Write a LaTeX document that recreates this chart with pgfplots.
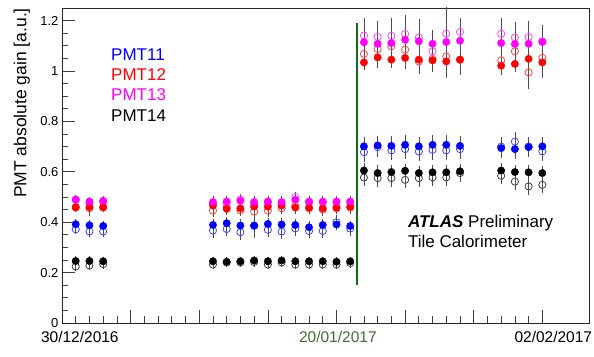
\documentclass[border=0pt]{standalone}
\usepackage{pgfplots}
\pgfplotsset{compat=1.18}
\usepackage{pgfplotstable}
\usepackage{fontspec}
\setmainfont{Liberation Sans}
\definecolor{lineGreen}{RGB}{20,105,20}
\definecolor{labGreen}{RGB}{60,110,50}
\definecolor{pmtBlue}{RGB}{0,0,255}
\definecolor{pmtRed}{RGB}{255,0,0}
\definecolor{pmtMag}{RGB}{255,0,255}

\pgfplotstableread{
x y e
1 0.392 0.012
2 0.388 0.012
3 0.385 0.012
11 0.389 0.015
12 0.396 0.015
13 0.387 0.015
14 0.387 0.040
15 0.393 0.015
16 0.391 0.015
17 0.389 0.015
18 0.380 0.015
19 0.389 0.015
20 0.391 0.015
21 0.385 0.012
22 0.701 0.030
23 0.705 0.030
24 0.703 0.030
25 0.707 0.030
26 0.701 0.030
27 0.707 0.030
28 0.707 0.030
29 0.703 0.030
32 0.694 0.030
33 0.690 0.030
34 0.698 0.030
35 0.701 0.030
}\pmtAf
\pgfplotstableread{
x y e
1 0.372 0.012
2 0.363 0.012
3 0.363 0.012
11 0.367 0.020
12 0.373 0.020
13 0.360 0.020
14 0.385 0.020
15 0.370 0.020
16 0.363 0.020
17 0.375 0.020
18 0.365 0.020
19 0.365 0.020
20 0.400 0.020
21 0.375 0.020
22 0.678 0.030
23 0.698 0.030
24 0.685 0.030
25 0.690 0.030
26 0.681 0.030
27 0.687 0.030
28 0.685 0.030
29 0.690 0.030
32 0.700 0.030
33 0.720 0.030
34 0.700 0.030
35 0.681 0.030
}\pmtAo
\pgfplotstableread{
x y e
1 0.460 0.012
2 0.460 0.025
3 0.460 0.012
11 0.466 0.015
12 0.453 0.015
13 0.455 0.020
14 0.462 0.015
15 0.462 0.015
16 0.466 0.015
17 0.458 0.015
18 0.458 0.015
19 0.455 0.015
20 0.458 0.015
21 0.462 0.015
22 1.034 0.020
23 1.054 0.033
24 1.045 0.015
25 1.052 0.034
26 1.045 0.050
27 1.042 0.037
28 1.038 0.040
29 1.045 0.053
32 1.021 0.030
33 1.028 0.023
34 1.048 0.030
35 1.034 0.055
}\pmtBf
\pgfplotstableread{
x y e
1 0.458 0.010
2 0.455 0.010
3 0.458 0.010
11 0.446 0.015
12 0.460 0.015
13 0.447 0.015
14 0.442 0.015
15 0.446 0.015
16 0.455 0.015
17 0.465 0.015
18 0.455 0.015
19 0.450 0.015
20 0.455 0.015
21 0.458 0.015
22 1.068 0.030
23 1.087 0.030
24 1.098 0.030
25 1.085 0.030
26 1.038 0.030
27 1.048 0.030
28 1.058 0.030
29 1.045 0.030
32 1.042 0.030
33 1.078 0.030
34 0.994 0.058
35 1.052 0.030
}\pmtBo
\pgfplotstableread{
x y e
1 0.490 0.010
2 0.482 0.010
3 0.485 0.010
11 0.480 0.015
12 0.482 0.015
13 0.485 0.020
14 0.480 0.015
15 0.482 0.015
16 0.480 0.015
17 0.489 0.020
18 0.482 0.015
19 0.482 0.015
20 0.482 0.015
21 0.482 0.015
22 1.114 0.086
23 1.108 0.080
24 1.111 0.090
25 1.124 0.090
26 1.118 0.080
27 1.108 0.045
28 1.115 0.135
29 1.120 0.080
32 1.111 0.090
33 1.107 0.080
34 1.108 0.082
35 1.115 0.060
}\pmtCf
\pgfplotstableread{
x y e
1 0.488 0.010
2 0.478 0.010
3 0.480 0.010
11 0.475 0.010
12 0.478 0.010
13 0.490 0.010
14 0.472 0.010
15 0.478 0.010
16 0.475 0.010
17 0.500 0.010
18 0.478 0.010
19 0.478 0.010
20 0.478 0.010
21 0.478 0.010
22 1.141 0.030
23 1.135 0.030
24 1.140 0.030
25 1.147 0.030
26 1.133 0.030
27 1.078 0.030
28 1.148 0.030
29 1.155 0.030
32 1.148 0.030
33 1.133 0.030
34 1.135 0.030
35 1.118 0.030
}\pmtCo
\pgfplotstableread{
x y e
1 0.246 0.010
2 0.246 0.010
3 0.245 0.010
11 0.245 0.010
12 0.243 0.010
13 0.245 0.010
14 0.248 0.010
15 0.245 0.010
16 0.248 0.010
17 0.245 0.010
18 0.245 0.010
19 0.245 0.010
20 0.243 0.010
21 0.245 0.010
22 0.605 0.020
23 0.595 0.025
24 0.599 0.020
25 0.604 0.020
26 0.595 0.020
27 0.598 0.020
28 0.598 0.020
29 0.602 0.020
32 0.605 0.020
33 0.599 0.020
34 0.598 0.020
35 0.595 0.020
}\pmtDf
\pgfplotstableread{
x y e
1 0.224 0.010
2 0.228 0.010
3 0.234 0.010
11 0.232 0.010
12 0.240 0.010
13 0.240 0.010
14 0.242 0.010
15 0.232 0.010
16 0.240 0.010
17 0.232 0.010
18 0.232 0.010
19 0.232 0.010
20 0.232 0.010
21 0.238 0.010
22 0.577 0.025
23 0.575 0.025
24 0.575 0.025
25 0.568 0.025
26 0.575 0.025
27 0.578 0.025
28 0.578 0.025
29 0.595 0.025
32 0.584 0.025
33 0.561 0.025
34 0.542 0.025
35 0.548 0.025
}\pmtDo

\begin{document}
\begin{tikzpicture}
\begin{axis}[
  scale only axis, width=527pt, height=315pt,
  xmin=0, xmax=38.4, ymin=0, ymax=1.25,
  axis line style={black!85, line width=0.8pt},
  tick style={black!75, line width=0.7pt},
  tick align=inside,
  xtick pos=left, ytick pos=left,
  xtick={0,5,10,15,20,25,30,35}, xticklabels={},
  minor x tick num=4,
  ytick={0,0.2,0.4,0.6,0.8,1,1.2},
  minor y tick num=3,
  major tick length=13pt, minor tick length=6.5pt,
  yticklabel style={font=\fontsize{13}{15}\selectfont, /pgf/number format/assume math mode=true},
  extra x ticks={1.3,20.1,35.8},
  extra x tick labels={30/12/2016,\textcolor{labGreen}{20/01/2017},02/02/2017},
  extra x tick style={tick style={draw=none},
    tick label style={font=\fontsize{15.5}{17}\selectfont, yshift=-5pt}},
  ylabel={PMT absolute gain [a.u.]},
  ylabel style={at={(axis description cs:-0.076,1.0)}, anchor=east, inner sep=0pt,
    font=\fontsize{17.5}{20}\selectfont},
  error bars/error bar style={black!70, line width=0.6pt},
  error bars/error mark options={black!70, line width=0.6pt, mark size=2.2pt},
]
% open markers
\addplot[only marks, mark=o, mark size=3.6pt, mark options={draw=pmtBlue!75, line width=0.8pt, fill=none},
  error bars/.cd, y dir=both, y explicit] table[x=x,y=y,y error=e] {\pmtAo};
\addplot[only marks, mark=o, mark size=3.6pt, mark options={draw=pmtRed!75, line width=0.8pt, fill=none},
  error bars/.cd, y dir=both, y explicit] table[x=x,y=y,y error=e] {\pmtBo};
\addplot[only marks, mark=o, mark size=3.6pt, mark options={draw=pmtMag!75, line width=0.8pt, fill=none},
  error bars/.cd, y dir=both, y explicit] table[x=x,y=y,y error=e] {\pmtCo};
\addplot[only marks, mark=o, mark size=3.6pt, mark options={draw=black!75, line width=0.8pt, fill=none},
  error bars/.cd, y dir=both, y explicit] table[x=x,y=y,y error=e] {\pmtDo};
% filled markers
\addplot[only marks, mark=*, mark size=3.7pt, mark options={draw=pmtBlue, fill=pmtBlue},
  error bars/.cd, y dir=both, y explicit] table[x=x,y=y,y error=e] {\pmtAf};
\addplot[only marks, mark=*, mark size=3.7pt, mark options={draw=pmtRed, fill=pmtRed},
  error bars/.cd, y dir=both, y explicit] table[x=x,y=y,y error=e] {\pmtBf};
\addplot[only marks, mark=*, mark size=3.7pt, mark options={draw=pmtMag, fill=pmtMag},
  error bars/.cd, y dir=both, y explicit] table[x=x,y=y,y error=e] {\pmtCf};
\addplot[only marks, mark=*, mark size=3.7pt, mark options={draw=black, fill=black},
  error bars/.cd, y dir=both, y explicit] table[x=x,y=y,y error=e] {\pmtDf};
% green separator
\addplot[lineGreen, line width=2.4pt, mark=none] coordinates {(21.5,0.15) (21.5,1.19)};
% legend texts
\node[anchor=west, text=pmtBlue, font=\fontsize{17}{19}\selectfont, inner sep=0pt] at (axis cs:3.57,1.065) {PMT11};
\node[anchor=west, text=pmtRed, font=\fontsize{17}{19}\selectfont, inner sep=0pt] at (axis cs:3.57,0.984) {PMT12};
\node[anchor=west, text=pmtMag, font=\fontsize{17}{19}\selectfont, inner sep=0pt] at (axis cs:3.57,0.905) {PMT13};
\node[anchor=west, text=black, font=\fontsize{17}{19}\selectfont, inner sep=0pt] at (axis cs:3.57,0.824) {PMT14};
\node[anchor=base west, inner sep=0pt, font=\fontsize{17}{19}\selectfont] at (axis cs:25.2,0.380) {\textbf{\textit{ATLAS}} Preliminary};
\node[anchor=base west, inner sep=0pt, font=\fontsize{17}{19}\selectfont] at (axis cs:25.2,0.298) {Tile Calorimeter};
\end{axis}
\pgfresetboundingbox
\path[use as bounding box] (current axis.south west) ++(-62pt,-33pt) rectangle ([shift={(5pt,8pt)}]current axis.north east);
\end{tikzpicture}
\end{document}
